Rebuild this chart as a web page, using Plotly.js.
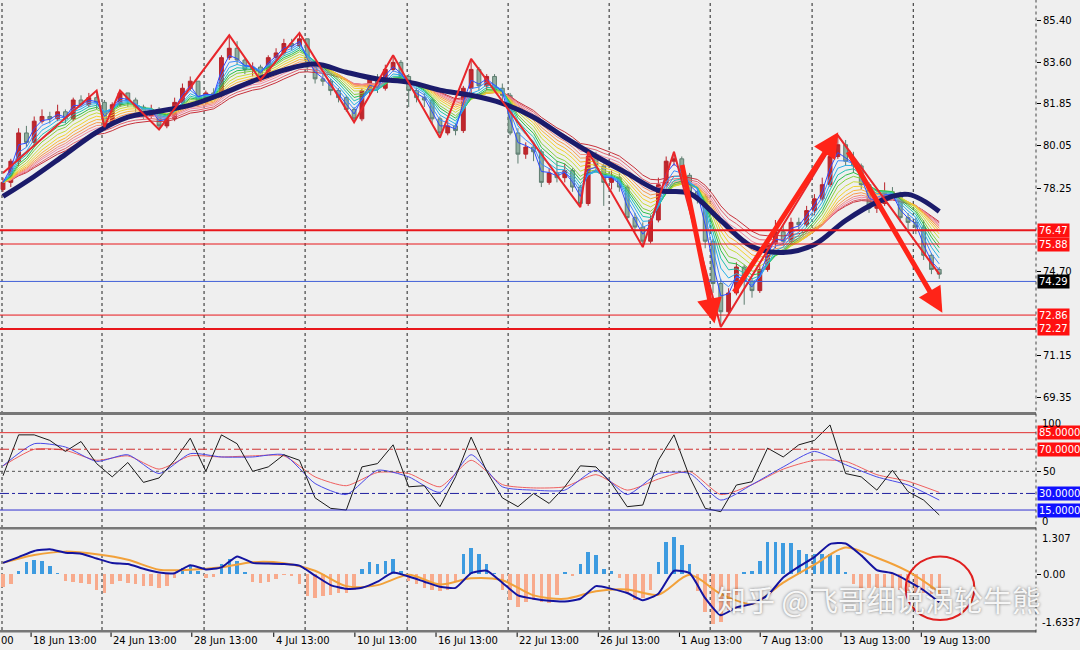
<!DOCTYPE html>
<html><head><meta charset="utf-8">
<script src="https://cdn.plot.ly/plotly-3.0.1.min.js"></script>
<style>html,body{margin:0;padding:0;background:#efefef;}#chart{width:1080px;height:650px;}</style>
</head><body><div id="chart"></div>
<script>
// ---------- DATA ----------
const open = [78.2,78.5,79.4,80.6,80.2,81.1,81.3,81.2,81.5,81.2, 82.0,81.8,82.1,81.9,81.0,81.8,82.3,82.0,81.7,81.3, 81.6,80.9,81.2,81.9,82.5,82.8,81.9,82.3,82.2,83.8, 84.2,83.7,83.3,83.4,83.0,83.8,84.0,84.4,84.3,84.6, 83.4,82.9,82.8,82.4,82.1,81.6,81.2,82.4,82.9,82.5, 83.3,83.6,83.0,82.4,82.1,82.0,81.2,80.6,80.9,80.7, 82.5,83.3,82.6,83.0,82.5,82.2,80.6,79.7,80.0,79.8, 78.5,78.9,78.7,79.0,78.3,77.6,79.6,79.2,78.5,78.7, 78.3,77.0,76.6,76.0,76.9,78.4,79.4,79.5,78.8,78.1, 77.9,76.0,74.2,73.0,73.8,74.9,74.3,73.9,74.8,75.9, 76.4,76.0,76.8,76.7,77.3,77.8,78.4,79.6,80.1,79.4, 79.2,78.4,77.4,77.6,78.1,78.0,77.0,76.8,76.6,75.4, 74.8];
const high = [78.7,79.5,80.8,80.9,81.3,81.6,81.5,81.8,81.6,82.1, 82.2,82.3,82.4,82.0,81.9,82.4,82.3,82.1,81.8,81.8, 81.7,81.3,82.1,82.7,83.0,82.8,82.4,82.5,83.9,84.75, 84.5,83.8,83.6,83.5,83.9,84.2,84.6,84.6,84.85,84.6, 83.5,83.1,82.9,82.5,82.2,81.7,82.5,83.0,83.1,83.5, 83.9,83.7,83.1,82.5,82.3,82.1,81.3,81.1,81.0,82.6, 83.75,83.4,83.1,83.1,82.7,82.3,80.8,80.2,80.1,79.9, 79.1,79.4,79.3,79.1,78.4,79.8,79.8,79.3,79.0,78.9, 78.4,77.2,76.8,77.1,78.7,79.6,79.8,79.6,78.9,78.3, 78.0,76.1,74.4,74.0,75.1,75.0,74.4,75.0,76.1,76.9, 76.7,77.0,77.0,77.5,78.0,78.7,79.9,80.5,80.3,79.8, 79.3,78.5,77.8,78.5,78.3,78.1,77.2,77.0,76.9,75.5, 74.9];
const low = [78.1,78.3,79.2,80.0,80.0,81.0,81.0,81.1,81.0,81.1, 81.7,81.7,81.6,80.85,80.9,81.7,81.7,81.5,81.2,81.2, 80.75,80.8,81.1,81.8,82.4,81.7,81.8,82.0,82.1,83.7, 83.5,83.1,83.0,82.85,82.9,83.7,83.9,84.1,84.2,83.2, 82.7,82.6,82.2,81.9,81.5,81.05,81.1,82.2,82.3,82.4, 83.2,82.8,81.7,81.9,81.7,81.0,80.4,80.5,80.5,80.6, 82.3,82.4,82.4,82.3,82.0,80.5,79.3,79.5,79.4,78.3, 78.4,78.5,78.5,78.1,77.45,77.5,78.9,77.5,78.2,78.1, 76.9,76.4,75.75,75.9,76.8,78.3,79.2,78.5,77.8,77.6, 75.7,73.8,72.35,72.9,73.7,73.3,73.6,73.8,74.7,75.7, 75.8,75.9,76.5,76.6,77.1,77.7,78.3,79.5,79.2,78.9, 78.2,77.2,77.2,77.5,77.8,76.8,76.4,76.3,75.2,74.6, 74.4];
const close = [78.5,79.4,80.6,80.2,81.1,81.3,81.2,81.5,81.2,82.0, 81.8,82.1,81.9,81.0,81.8,82.3,82.0,81.7,81.3,81.6, 80.9,81.2,81.9,82.5,82.8,81.9,82.3,82.2,83.8,84.2, 83.7,83.3,83.4,83.0,83.8,84.0,84.4,84.3,84.6,83.4, 82.9,82.8,82.4,82.1,81.6,81.2,82.4,82.9,82.5,83.3, 83.6,83.0,82.4,82.1,82.0,81.2,80.6,80.9,80.7,82.5, 83.3,82.6,83.0,82.5,82.2,80.6,79.7,80.0,79.8,78.5, 78.9,78.7,79.0,78.3,77.6,79.6,79.2,78.5,78.7,78.3, 77.0,76.6,76.0,76.9,78.4,79.4,79.5,78.8,78.1,77.9, 76.0,74.2,73.0,73.8,74.9,74.3,73.9,74.8,75.9,76.4, 76.0,76.8,76.7,77.3,77.8,78.4,79.6,80.1,79.4,79.2, 78.4,77.4,77.6,78.1,78.0,77.0,76.8,76.6,75.4,74.8, 74.6];

// slow moving average (thick navy), one value every 4 bars
const slowMA = [77.90,78.75,79.69,80.63,81.27,81.52,81.78,82.25,82.80,83.27,83.53,83.18,82.89,82.76,82.42,82.20,81.86,81.27,80.41,79.61,78.88,78.16,78.03,76.88,75.77,75.52,75.86,76.88,77.65,77.99,77.26];

// zigzag pivots (bar index, price)
const zzBar   = [0,12,13,15,20,29,33,38,45,50,56,60,74,75,82,86,92,107,120];
const zzPrice = [78.9,82.4,80.85,82.4,80.75,84.75,82.85,84.85,81.05,83.9,80.4,83.75,77.45,79.8,75.75,79.8,72.35,80.5,74.6];

// horizontal levels on the price panel
const priceLevels = [76.47,75.88,74.29,72.86,72.27];
const priceLevelColor = ['#e8161b','#e8161b','#4060d8','#e8161b','#e8161b'];
const priceLevelWidth = [2,1,1,1,2];
const priceLevelBox = ['#ff1010','#ff1010','#000000','#ff1010','#ff1010'];
const priceTicks = [85.40,83.60,81.85,80.05,78.25,74.70,71.15,69.35];

// RSI-type oscillator lines
const rsiFast = [46,83,83,78,68,77,57,45,58,40,44,60,80,50,83,75,50,54,65,60,26,16.5,15,54,57,74,36,37,18,45,81,50,26,18,30,21,36,55,54,39,18,19.5,60,83,45,16.5,13.5,37.6,40.6,71,63,74,78,92,48,45,33,51,31.6,24,10.5]; // every 2 bars
const rsiMid  = [55,75,72,59,65,48,66,63,63,65,39,29,51,45,31,65,36,33,33,51,29,48,48,24,38,54,68,56,45,37.6,24]; // every 4 bars
const rsiSlow = [55,70,69,60,64,52,64,63,64,64,45,37,49,48,36,60,38,35,36,47,33,43,50,29,38,52,60,59,47,41,31]; // every 4 bars
const rsiLevels = [85,70,50,30,15];

// MACD
const macdMain = [0.33,0.5,0.68,0.73,0.63,0.6,0.46,0.33,0.3,0.16,0.05,0.03,0.26,0.14,0.2,0.52,0.33,0.31,0.3,0.25,-0.04,-0.32,-0.43,-0.4,-0.22,0.05,-0.07,-0.22,-0.37,-0.4,0.03,0.1,-0.25,-0.62,-0.72,-0.78,-0.8,-0.72,-0.35,-0.43,-0.55,-0.76,-0.57,0.1,0.03,-0.7,-1.2,-0.97,-0.87,-0.62,-0.1,0.22,0.5,0.88,0.9,0.55,0.12,0.03,-0.2,-0.47,-0.82]; // every 2 bars
const macdSignal = [0.33,0.56,0.66,0.58,0.42,0.13,0.13,0.2,0.35,0.32,0.1,-0.35,-0.32,-0.02,-0.3,-0.12,-0.18,-0.62,-0.72,-0.5,-0.45,-0.6,-0.02,-0.58,-0.87,-0.25,0.28,0.78,0.48,0.08,-0.52]; // every 4 bars
const macdHist = [-0.37,-0.3,0.1,0.35,0.42,0.4,0.25,0.03,-0.2,-0.22, -0.25,-0.3,-0.45,-0.55,-0.3,-0.2,-0.25,-0.3,-0.35,-0.35, -0.4,-0.35,-0.1,0.18,0.28,0.1,-0.1,-0.08,0.3,0.45, 0.38,0.05,-0.22,-0.25,-0.22,-0.15,-0.03,-0.05,-0.3,-0.65, -0.7,-0.65,-0.6,-0.55,-0.55,-0.45,0.15,0.35,0.3,0.4, 0.45,0.1,-0.2,-0.3,-0.4,-0.45,-0.5,-0.45,-0.2,0.6, 0.78,0.6,0.3,0.02,-0.45,-0.75,-0.95,-0.8,-0.75,-0.8, -0.85,-0.6,0.05,-0.05,0.3,0.65,0.55,0.15,0.08,-0.1, -0.55,-0.75,-0.7,-0.45,0.35,0.95,1.1,0.85,0.3,-0.5, -1.1,-1.45,-1.4,-1.05,-0.6,0.05,0.1,0.4,0.95,0.95, 0.9,0.92,0.7,0.6,0.58,0.6,0.6,0.55,0.05,-0.3, -0.4,-0.4,-0.4,-0.38,-0.42,-0.45,-0.5,-0.55,-0.55,-0.57,-0.6];

// time labels (bar index where each label starts)
const timeLabels = ['18 Jun 13:00','24 Jun 13:00','28 Jun 13:00','4 Jul 13:00','10 Jul 13:00','16 Jul 13:00','22 Jul 13:00','26 Jul 13:00','1 Aug 13:00','7 Aug 13:00','13 Aug 13:00','19 Aug 13:00'];
const timeLabelBar = [3.6,13.85,24.2,34.7,45.1,55.5,65.9,76.3,86.7,97.05,107.4,117.7];
const edgeLabel = '00';   // visible tail of the label left of the view
// vertical grid (bar index)
const gridBars = [-0.128,12.69,25.77,38.72,51.8,64.74,77.69,90.64,103.7,116.67];

// hand-drawn arrows (tail bar, tail price, head bar, head price)
const arrowTail = [[87.0,79.3],[93.6,73.77],[108.2,79.86]];
const arrowHead = [[91.2,72.5],[107.05,80.63],[120.4,72.96]];

// ---------- BUILD ----------
const bars = close.map((_, i) => i);
const every = (arr, k) => arr.map((_, i) => i * k);
function ema(src, p) { const a = 2 / (p + 1); const out = []; let e = src[0]; src.forEach((v, i) => { e = i === 0 ? v : a * v + (1 - a) * e; out.push(e); }); return out; }

const ribbon = [[2,'#2d4bff'],[3,'#3d8bff'],[4,'#27b0e8'],[5,'#21c2b0'],[6,'#2bbf4a'],[7,'#86cf3e'],[8.5,'#c8dc3a'],[10,'#f2d22e'],[11.5,'#f7b43a'],[13,'#f79a4e'],[14.5,'#f58a7a'],[16,'#ee8aa6'],[18,'#e0606e'],[20,'#c8323c']];

const traces = [];
ribbon.slice().reverse().forEach(([p, c]) => traces.push({type:'scatter', mode:'lines', x: bars, y: ema(close, p), line:{color:c, width:1}, xaxis:'x', yaxis:'y', hoverinfo:'skip'}));
traces.push({type:'scatter', mode:'lines', x: every(slowMA, 4), y: slowMA, line:{color:'#1b1b6b', width:5, shape:'spline', smoothing:1}, xaxis:'x', yaxis:'y'});
traces.push({type:'candlestick', x: bars, open, high, low, close, xaxis:'x', yaxis:'y', whiskerwidth:0,
  increasing:{line:{color:'#b8232a', width:1}, fillcolor:'#c0272d'},
  decreasing:{line:{color:'#5f7d70', width:1}, fillcolor:'#8fae9f'}});
traces.push({type:'scatter', mode:'lines', x: zzBar, y: zzPrice, line:{color:'#e8262b', width:2}, xaxis:'x', yaxis:'y'});

// oscillator panel
traces.push({type:'scatter', mode:'lines', x: every(rsiSlow, 4), y: rsiSlow, line:{color:'#f06060', width:1, shape:'spline', smoothing:0.6}, xaxis:'x', yaxis:'y2'});
traces.push({type:'scatter', mode:'lines', x: every(rsiMid, 4), y: rsiMid, line:{color:'#4848e8', width:1, shape:'spline', smoothing:0.6}, xaxis:'x', yaxis:'y2'});
traces.push({type:'scatter', mode:'lines', x: every(rsiFast, 2), y: rsiFast, line:{color:'#1a1a1a', width:1}, xaxis:'x', yaxis:'y2'});

// MACD panel
traces.push({type:'bar', x: bars, y: macdHist, width:0.45, marker:{color: macdHist.map(v => v >= 0 ? '#3d9be0' : '#f8aa8c')}, xaxis:'x', yaxis:'y3'});
traces.push({type:'scatter', mode:'lines', x: every(macdSignal, 4), y: macdSignal, line:{color:'#f2a13a', width:2, shape:'spline', smoothing:0.8}, xaxis:'x', yaxis:'y3'});
traces.push({type:'scatter', mode:'lines', x: every(macdMain, 2), y: macdMain, line:{color:'#1414a0', width:2, shape:'spline', smoothing:0.5}, xaxis:'x', yaxis:'y3'});

const F = 'DejaVu Sans, Verdana, sans-serif';
const shapes = [];
const annotations = [];

gridBars.forEach(g => shapes.push({type:'line', layer:'below', xref:'x', x0:g, x1:g, yref:'paper', y0:0, y1:1, line:{color:'#222', width:1, dash:'dot'}}));

priceLevels.forEach((v, k) => {
  shapes.push({type:'line', xref:'paper', x0:0, x1:1, yref:'y', y0:v, y1:v, line:{color:priceLevelColor[k], width:priceLevelWidth[k]}});
  annotations.push({xref:'paper', x:1, xanchor:'left', xshift:1, yref:'y', y:v, text:v.toFixed(2), showarrow:false, bgcolor:priceLevelBox[k], borderpad:1, font:{family:F, size:10, color:'#ffffff'}});
});
const rsiStyle = [['#e03030','solid'],['#d03030','dashdot'],['#555555','dot'],['#2020a0','dashdot'],['#3030d0','solid']];
const rsiBox = ['#ff1010','#ff1010',null,'#1010ff','#1010ff'];
rsiLevels.forEach((v, k) => {
  shapes.push({type:'line', xref:'paper', x0:0, x1:1, yref:'y2', y0:v, y1:v, line:{color:rsiStyle[k][0], width:1, dash:rsiStyle[k][1]}});
  if (rsiBox[k]) annotations.push({xref:'paper', x:1, xanchor:'left', xshift:1, yref:'y2', y:v, text:v.toFixed(4), showarrow:false, bgcolor:rsiBox[k], borderpad:1, font:{family:F, size:10, color:'#ffffff'}});
});
// extra plain axis labels
annotations.push({xref:'paper', x:1, xanchor:'left', xshift:4, yref:'y2', y:100, yanchor:'top', text:'100', showarrow:false, font:{family:F, size:10, color:'#000'}});
annotations.push({xref:'paper', x:1, xanchor:'left', xshift:4, yref:'y2', y:0, yanchor:'bottom', yshift:-2, text:'0', showarrow:false, font:{family:F, size:10, color:'#000'}});
annotations.push({xref:'paper', x:1, xanchor:'left', xshift:4, yref:'y3', y:1.307, yanchor:'top', yshift:-1, text:'1.307', showarrow:false, font:{family:F, size:10, color:'#000'}});
annotations.push({xref:'paper', x:1, xanchor:'left', xshift:4, yref:'y3', y:-1.6337, yanchor:'bottom', text:'-1.6337', showarrow:false, font:{family:F, size:10, color:'#000'}});

// panel separators and borders
[[0.3413,0.346],[0.1595,0.1635],[-0.004,0]].forEach(([a,b]) => shapes.push({type:'rect', xref:'paper', x0:0, x1:1, yref:'paper', y0:a, y1:b, fillcolor:'#777777', line:{width:0}}));
shapes.push({type:'line', xref:'paper', x0:1, x1:1, yref:'paper', y0:-0.004, y1:1, line:{color:'#444', width:1, dash:'dot'}});

// time labels with small ticks
timeLabels.forEach((t, k) => {
  annotations.push({xref:'x', x:timeLabelBar[k], xanchor:'left', yref:'paper', y:0, yanchor:'top', yshift:-3, text:t, showarrow:false, font:{family:F, size:10, color:'#000'}});
  shapes.push({type:'line', xref:'x', x0:timeLabelBar[k], x1:timeLabelBar[k], yref:'paper', y0:-0.004, y1:-0.011, line:{color:'#000', width:1}});
});
annotations.push({xref:'paper', x:0, xanchor:'left', xshift:-1, yref:'paper', y:0, yanchor:'top', yshift:-3, text:edgeLabel, showarrow:false, font:{family:F, size:10, color:'#000'}});

// arrows
arrowTail.forEach((t, k) => annotations.push({xref:'x', yref:'y', axref:'x', ayref:'y', x:arrowHead[k][0], y:arrowHead[k][1], ax:t[0], ay:t[1], text:'', showarrow:true, arrowhead:2, arrowsize:1, arrowwidth:5, arrowcolor:'#ff2418'}));

// red ring on MACD panel
shapes.push({type:'circle', xref:'x', yref:'y3', x0:115.7, x1:124.5, y0:-1.34, y1:0.52, line:{color:'#e02020', width:2}});

// watermark
annotations.push({xref:'paper', yref:'paper', x:0.848, y:0.05, xanchor:'center', yanchor:'middle', text:'知乎 @飞哥细说涡轮牛熊', showarrow:false,
  font:{family:'Noto Sans CJK SC, sans-serif', size:29, color:'rgba(255,255,255,0.93)', shadow:'0px 0px 3px rgba(0,0,0,0.55)'}});

const yCommon = {side:'right', anchor:'x', showgrid:false, zeroline:false, showline:false, ticks:'outside', ticklen:4, tickcolor:'#000', tickfont:{family:F, size:10, color:'#000'}, fixedrange:true};
const layout = {
  width:1080, height:650, margin:{l:0, r:44, t:0, b:20},
  paper_bgcolor:'#efefef', plot_bgcolor:'#efefef', showlegend:false, hovermode:false, bargap:0,
  xaxis:{range:[-0.385,132.4], anchor:'y3', showticklabels:false, ticks:'', showgrid:false, zeroline:false, showline:false, rangeslider:{visible:false}, fixedrange:true},
  yaxis: Object.assign({}, yCommon, {domain:[0.346,1], range:[68.74,86.25], tickmode:'array', tickvals:priceTicks, ticktext:priceTicks.map(v=>v.toFixed(2))}),
  yaxis2: Object.assign({}, yCommon, {domain:[0.1635,0.3413], range:[-0.36,101], tickmode:'array', tickvals:[50], ticktext:['50']}),
  yaxis3: Object.assign({}, yCommon, {domain:[0,0.1595], range:[-1.6337,1.307], tickmode:'array', tickvals:[0], ticktext:['0.00']}),
  shapes, annotations
};
Plotly.newPlot('chart', traces, layout, {staticPlot:true, displayModeBar:false});
</script></body></html>
